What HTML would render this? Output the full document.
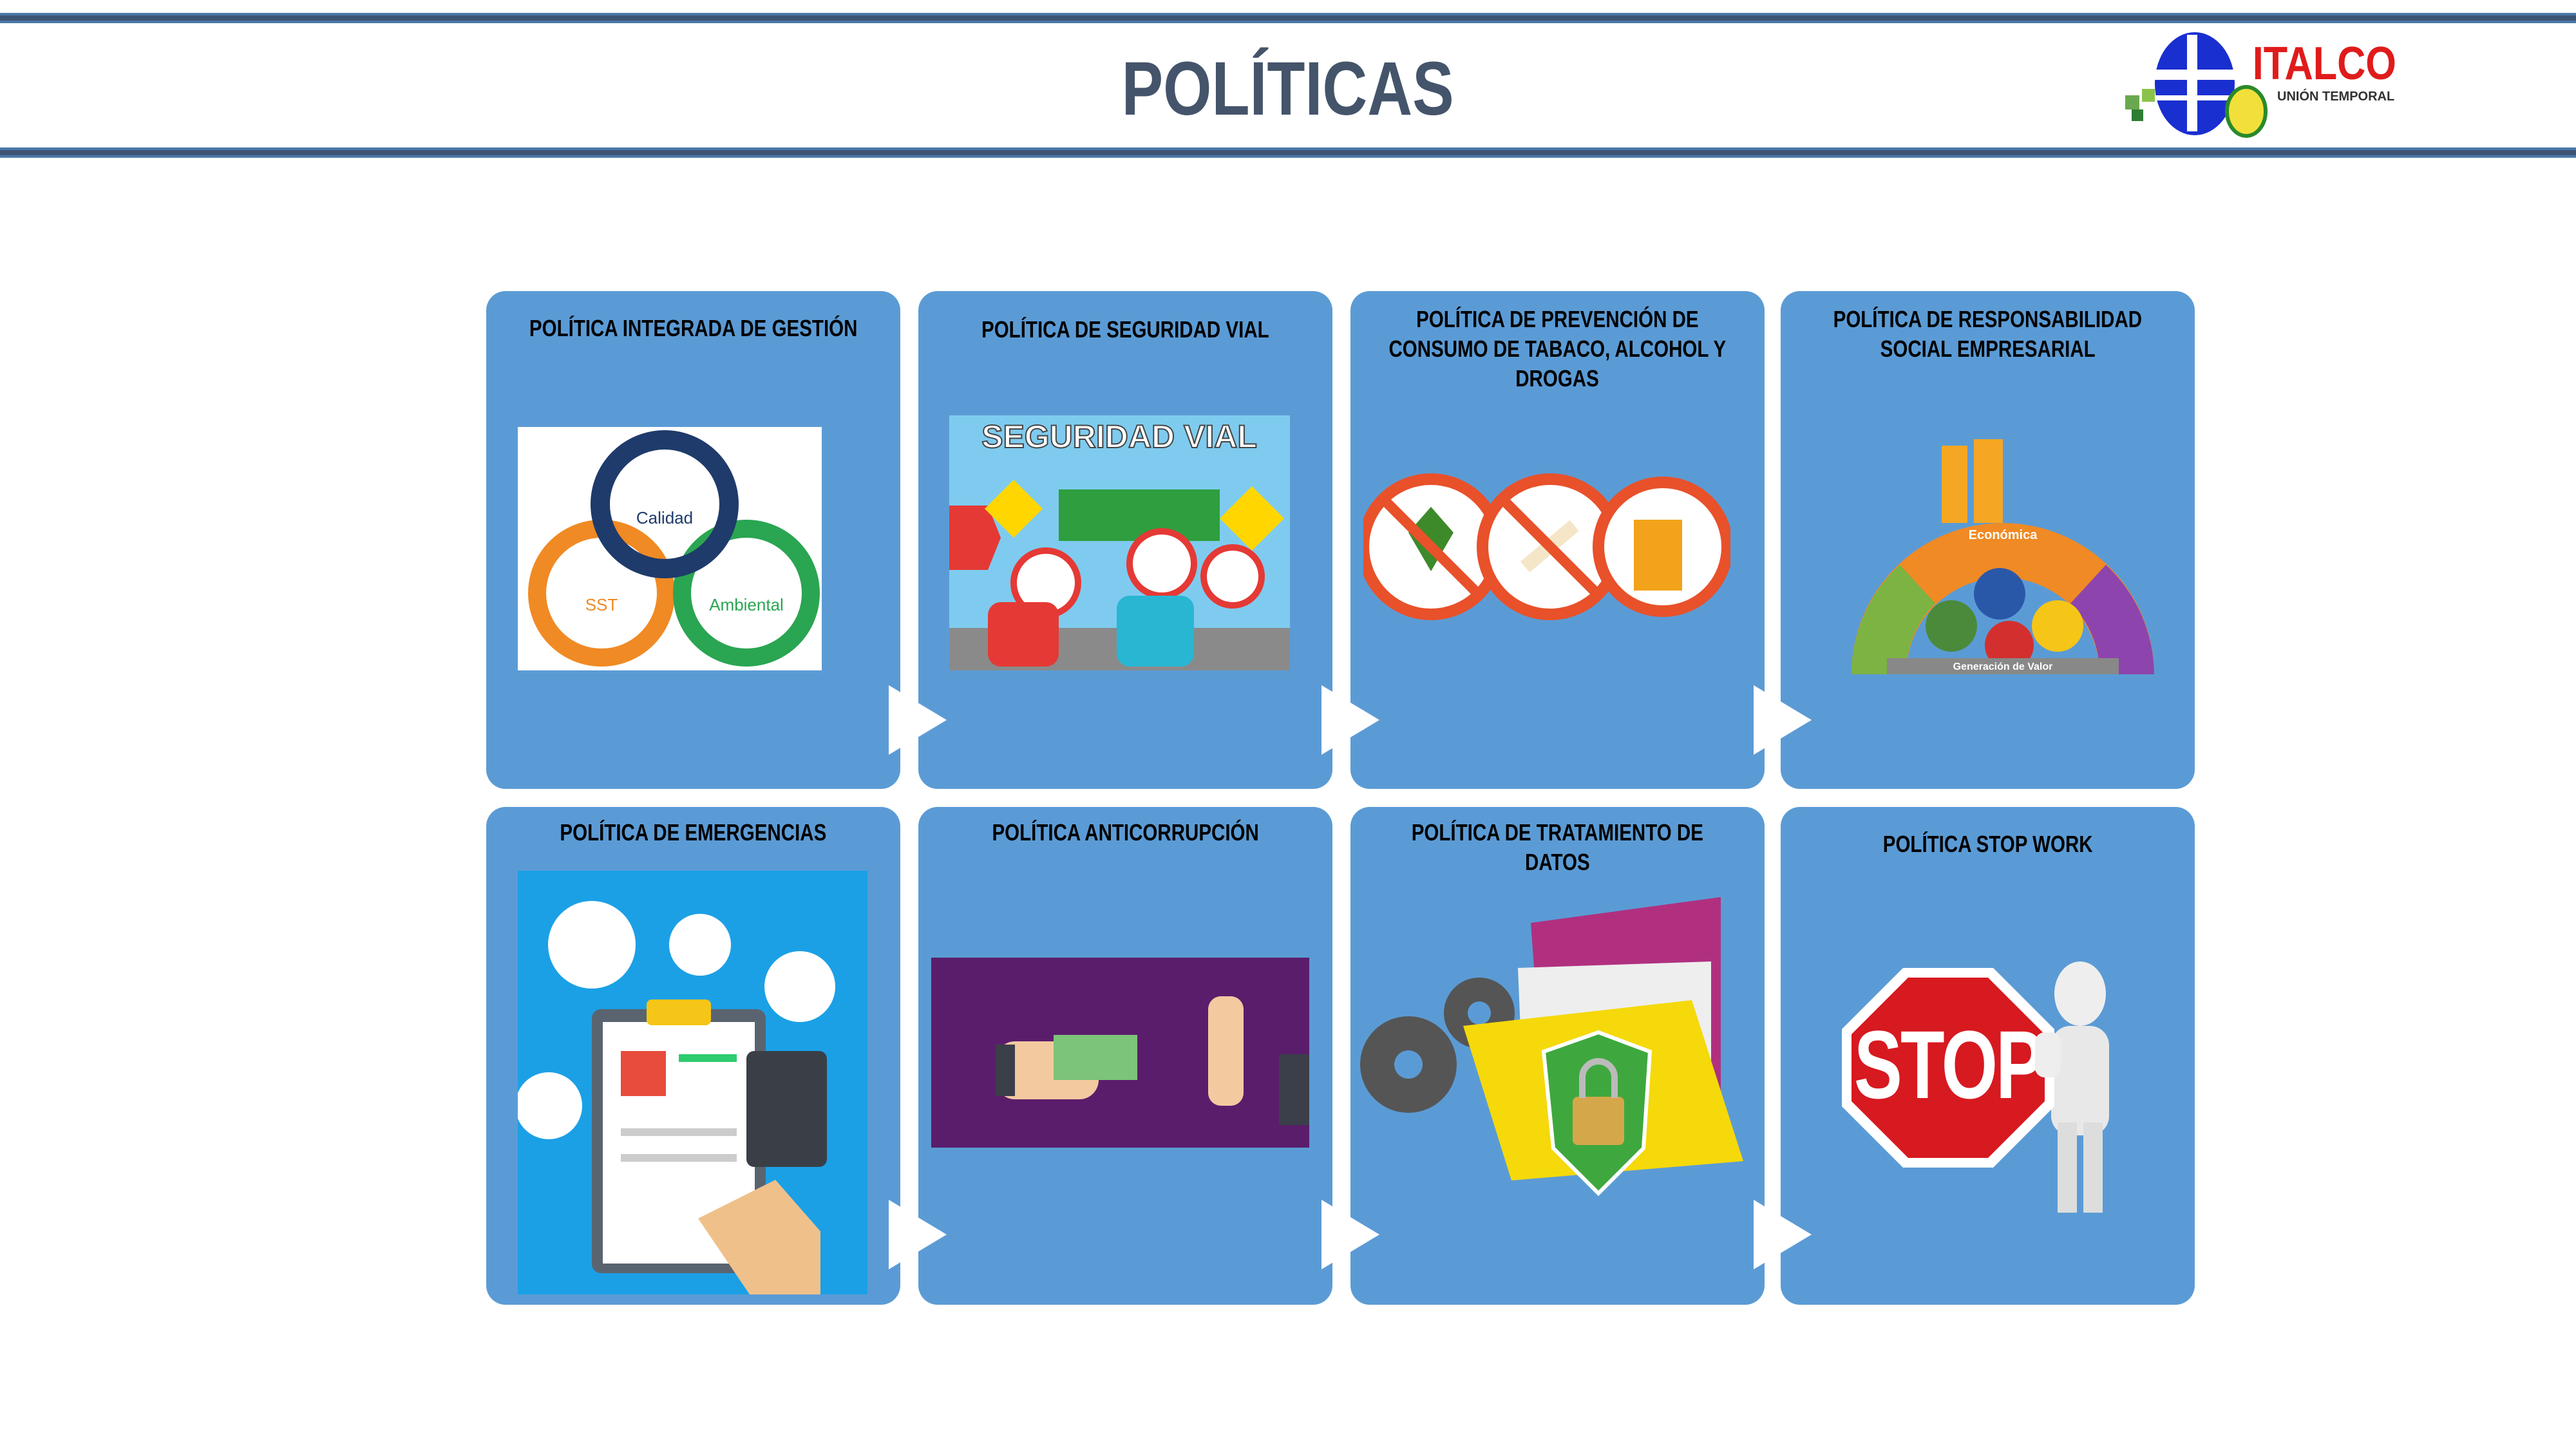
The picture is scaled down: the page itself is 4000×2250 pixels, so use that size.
<!DOCTYPE html>
<html><head><meta charset="utf-8">
<style>
body{margin:0;width:4000px;height:2250px;background:#fff;position:relative;overflow:hidden;font-family:"Liberation Sans",sans-serif}
.bar{position:absolute;left:0;width:4000px;background:#3f5475;border-top:4px solid #4a78a8;border-bottom:4px solid #4a78a8;box-sizing:border-box}
.card{position:absolute;width:643px;height:773px;background:#5b9bd5;border-radius:30px}
.t{position:absolute;left:0;width:643px;text-align:center;font-weight:bold;font-size:36px;line-height:46px;color:#000}
.t span{display:inline-block;transform:scaleX(0.82);white-space:nowrap}
.arr{position:absolute;z-index:5;width:0;height:0;border-top:54px solid transparent;border-bottom:54px solid transparent;border-left:90px solid #fff}
svg{position:absolute}
</style></head><body>
<div class="bar" style="top:20px;height:16px"></div>
<div class="bar" style="top:229px;height:16px"></div>
<div style="position:absolute;left:1500px;width:1000px;top:70px;text-align:center;font-weight:bold;font-size:118px;color:#44546a"><span style="display:inline-block;transform:scaleX(0.82)">POLÍTICAS</span></div>
<svg style="left:3298px;top:48px" width="480" height="172" viewBox="0 0 480 172">
<rect x="2" y="100" width="22" height="22" fill="#6aa84f"/><rect x="12" y="122" width="18" height="18" fill="#2e7d32"/><rect x="28" y="90" width="20" height="20" fill="#8bc34a"/>
<ellipse cx="110" cy="82" rx="62" ry="80" fill="#1a2fd0"/><rect x="48" y="60" width="124" height="16" fill="#fff"/><rect x="48" y="100" width="124" height="8" fill="#fff"/><rect x="98" y="6" width="16" height="150" fill="#fff"/>
<ellipse cx="190" cy="125" rx="30" ry="38" fill="#f2e03a" stroke="#2a8a2a" stroke-width="6"/>
<text x="235" y="75" font-size="72" font-weight="bold" fill="#e01b1b" transform="scale(0.85,1)" style="font-family:'Liberation Sans'" >ITALCO</text>
<text x="238" y="108" font-size="20" font-weight="bold" fill="#333">UNIÓN TEMPORAL</text>
</svg>

<!-- Row 1 -->
<div class="card" style="left:755px;top:452px">
<div class="t" style="top:35px"><span>POLÍTICA INTEGRADA DE GESTIÓN</span></div>
<svg style="left:49px;top:211px" width="472" height="378"><rect width="472" height="378" fill="#fff"/>
<circle cx="130" cy="258" r="100" fill="none" stroke="#f08a24" stroke-width="28"/><circle cx="355" cy="258" r="100" fill="none" stroke="#2aa552" stroke-width="28"/><circle cx="228" cy="120" r="100" fill="none" stroke="#1f3b6b" stroke-width="30"/>
<text x="228" y="150" font-size="26" fill="#1f3b6b" text-anchor="middle">Calidad</text><text x="230" y="230" font-size="30" font-weight="bold" fill="#1f3b6b" text-anchor="middle">SIG</text>
<text x="130" y="285" font-size="26" fill="#f08a24" text-anchor="middle">SST</text><text x="355" y="285" font-size="26" fill="#2aa552" text-anchor="middle">Ambiental</text></svg>
</div>
<div class="arr" style="left:1380px;top:1064px"></div>

<div class="card" style="left:1426px;top:452px">
<div class="t" style="top:37px"><span>POLÍTICA DE SEGURIDAD VIAL</span></div>
<svg style="left:48px;top:193px" width="529" height="396"><rect width="529" height="396" fill="#7ecbef"/>
<text x="264" y="50" font-size="50" font-weight="bold" fill="#fff" stroke="#444" stroke-width="2" text-anchor="middle">SEGURIDAD VIAL</text>
<rect x="170" y="115" width="250" height="80" fill="#2e9e3e"/><polygon points="0,140 60,140 80,190 60,240 0,240" fill="#e53935"/>
<circle cx="150" cy="260" r="50" fill="#fff" stroke="#e53935" stroke-width="10"/><circle cx="330" cy="230" r="50" fill="#fff" stroke="#e53935" stroke-width="10"/><circle cx="440" cy="250" r="45" fill="#fff" stroke="#e53935" stroke-width="10"/>
<polygon points="470,110 520,160 470,210 420,160" fill="#ffd600"/><polygon points="100,100 145,145 100,190 55,145" fill="#ffd600"/>
<rect x="0" y="330" width="529" height="66" fill="#8a8a8a"/><rect x="60" y="290" width="110" height="100" rx="20" fill="#e53935"/><rect x="260" y="280" width="120" height="110" rx="20" fill="#29b6d3"/></svg>
</div>
<div class="arr" style="left:2052px;top:1064px"></div>

<div class="card" style="left:2097px;top:452px">
<div class="t" style="top:21px"><span>POLÍTICA DE PREVENCIÓN DE</span><br><span>CONSUMO DE TABACO, ALCOHOL Y</span><br><span>DROGAS</span></div>
<svg style="left:20px;top:275px" width="570" height="245">
<circle cx="105" cy="122" r="105" fill="#fff" stroke="#e8512a" stroke-width="18"/><circle cx="290" cy="122" r="105" fill="#fff" stroke="#e8512a" stroke-width="18"/><circle cx="465" cy="122" r="100" fill="#fff" stroke="#e8512a" stroke-width="18"/>
<path d="M70 100 L105 60 L140 100 L105 160Z" fill="#3d8a2b"/><rect x="240" y="110" width="100" height="22" fill="#f5e6c8" transform="rotate(-40 290 122)"/><rect x="420" y="80" width="75" height="110" fill="#f2a31b"/>
<line x1="30" y1="47" x2="180" y2="197" stroke="#e8512a" stroke-width="16"/><line x1="215" y1="47" x2="365" y2="197" stroke="#e8512a" stroke-width="16"/></svg>
</div>
<div class="arr" style="left:2723px;top:1064px"></div>

<div class="card" style="left:2765px;top:452px">
<div class="t" style="top:21px"><span>POLÍTICA DE RESPONSABILIDAD</span><br><span>SOCIAL EMPRESARIAL</span></div>
<svg style="left:65px;top:220px" width="560" height="380">
<path d="M45 375 A235 235 0 0 1 515 375 L430 375 A150 150 0 0 0 130 375Z" fill="#f08a24"/>
<path d="M45 375 A235 235 0 0 1 120 205 L175 265 A150 150 0 0 0 130 375Z" fill="#7cb342"/>
<path d="M440 205 A235 235 0 0 1 515 375 L430 375 A150 150 0 0 0 385 265Z" fill="#8e44ad"/>
<rect x="185" y="20" width="40" height="120" fill="#f5a623"/><rect x="235" y="10" width="45" height="130" fill="#f5a623"/>
<circle cx="200" cy="300" r="40" fill="#4a8a3a"/><circle cx="275" cy="250" r="40" fill="#2a58a8"/><circle cx="290" cy="330" r="38" fill="#d32f2f"/><circle cx="365" cy="300" r="40" fill="#f5c518"/>
<rect x="100" y="350" width="360" height="25" fill="#888"/><text x="280" y="368" font-size="16" font-weight="bold" fill="#fff" text-anchor="middle">Generación de Valor</text>
<text x="280" y="165" font-size="20" font-weight="bold" fill="#fff" text-anchor="middle">Económica</text></svg>
</div>

<!-- Row 2 -->
<div class="card" style="left:755px;top:1253px">
<div class="t" style="top:17px"><span>POLÍTICA DE EMERGENCIAS</span></div>
<svg style="left:49px;top:99px" width="543" height="658"><rect width="543" height="658" fill="#1ba0e6"/>
<circle cx="115" cy="115" r="68" fill="#fff"/><circle cx="283" cy="115" r="48" fill="#fff"/><circle cx="438" cy="180" r="55" fill="#fff"/><circle cx="48" cy="365" r="52" fill="#fff"/>
<rect x="115" y="215" width="270" height="410" rx="14" fill="#5a6470"/><rect x="132" y="235" width="236" height="375" fill="#fff"/><rect x="200" y="200" width="100" height="40" rx="8" fill="#f5c518"/>
<rect x="160" y="280" width="70" height="70" fill="#e74c3c"/><rect x="250" y="285" width="90" height="12" fill="#2ecc71"/><rect x="160" y="400" width="180" height="12" fill="#ccc"/><rect x="160" y="440" width="180" height="12" fill="#ccc"/>
<rect x="355" y="280" width="125" height="180" rx="12" fill="#3a3f47"/><path d="M280 540 L400 480 L470 560 L470 658 L360 658Z" fill="#f0c08a"/></svg>
</div>
<div class="arr" style="left:1380px;top:1863px"></div>

<div class="card" style="left:1426px;top:1253px">
<div class="t" style="top:17px"><span>POLÍTICA ANTICORRUPCIÓN</span></div>
<svg style="left:20px;top:234px" width="587" height="295"><rect width="587" height="295" fill="#5a1d6b"/>
<rect x="100" y="130" width="160" height="90" rx="30" fill="#f3c9a0"/><rect x="190" y="120" width="130" height="70" fill="#7cc47a"/><rect x="430" y="60" width="55" height="170" rx="20" fill="#f3c9a0"/>
<rect x="100" y="135" width="30" height="80" fill="#3b3f4a"/><rect x="540" y="150" width="47" height="110" fill="#3b3f4a"/></svg>
</div>
<div class="arr" style="left:2052px;top:1863px"></div>

<div class="card" style="left:2097px;top:1253px">
<div class="t" style="top:17px"><span>POLÍTICA DE TRATAMIENTO DE</span><br><span>DATOS</span></div>
<svg style="left:0px;top:140px" width="643" height="520">
<polygon points="280,40 575,0 575,300 300,320" fill="#b0307f"/><polygon points="260,110 560,100 560,330 270,350" fill="#eee"/>
<circle cx="200" cy="180" r="55" fill="#555"/><circle cx="90" cy="260" r="75" fill="#555"/><circle cx="90" cy="260" r="22" fill="#5b9bd5"/><circle cx="200" cy="180" r="18" fill="#5b9bd5"/>
<polygon points="175,200 530,160 610,410 250,440" fill="#f5d90a"/>
<path d="M300 240 L385 210 L465 240 L455 390 L385 460 L315 390Z" fill="#3ea83e" stroke="#fff" stroke-width="6"/><rect x="345" y="310" width="80" height="75" rx="8" fill="#d4a74a"/><path d="M360 312 V280 a25 25 0 0 1 50 0 V312" fill="none" stroke="#bbb" stroke-width="10"/></svg>
</div>
<div class="arr" style="left:2723px;top:1863px"></div>

<div class="card" style="left:2765px;top:1253px">
<div class="t" style="top:35px"><span>POLÍTICA STOP WORK</span></div>
<svg style="left:95px;top:220px" width="450" height="420">
<ellipse cx="370" cy="70" rx="40" ry="50" fill="#eee"/><rect x="325" y="120" width="90" height="170" rx="30" fill="#e8e8e8"/><rect x="335" y="270" width="30" height="140" fill="#ddd"/><rect x="375" y="270" width="30" height="140" fill="#ddd"/>
<polygon points="95,30 235,30 330,125 330,245 235,340 95,340 0,245 0,125" fill="#fff"/><polygon points="103,45 227,45 315,133 315,237 227,325 103,325 15,237 15,133" fill="#d71920"/>
<text x="165" y="232" font-size="150" font-weight="bold" fill="#fff" text-anchor="middle" transform="translate(165 0) scale(0.75 1) translate(-165 0)" style="letter-spacing:-4px">STOP</text>
<rect x="300" y="130" width="40" height="70" rx="15" fill="#eee"/></svg>
</div>
</body></html>
